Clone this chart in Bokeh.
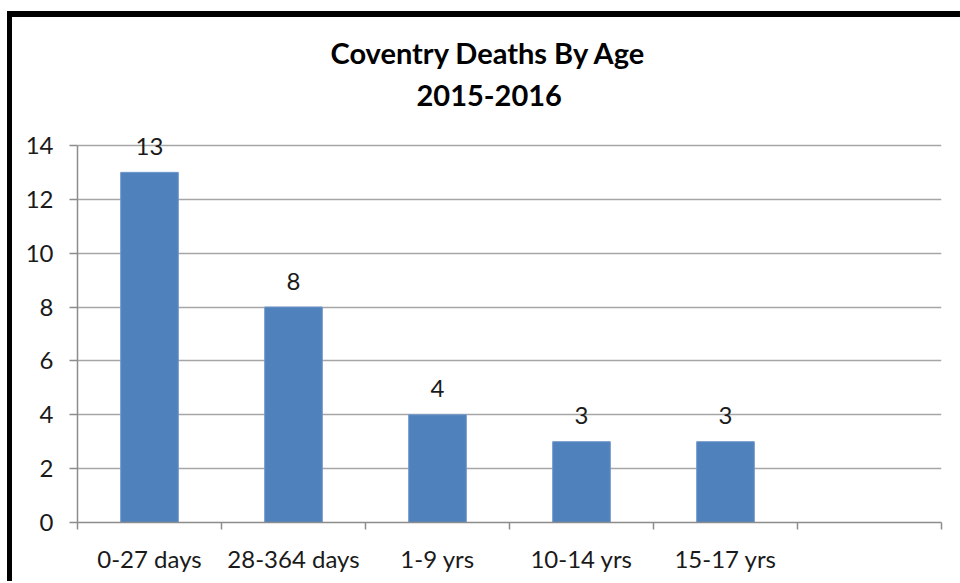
from bokeh.plotting import figure
from bokeh.models import FixedTicker, Range1d, ColumnDataSource, LabelSet, Title
from bokeh.core.properties import value
from bokeh.embed import file_html
from bokeh.resources import INLINE

categories = ["0-27 days", "28-364 days", "1-9 yrs", "10-14 yrs", "15-17 yrs", ""]
deaths = [13, 8, 4, 3, 3]
y_ticks = [0, 2, 4, 6, 8, 10, 12, 14]
title_lines = ["Coventry Deaths By Age", "2015-2016"]

n = len(categories)
centers = [i + 0.5 for i in range(n)]
src = ColumnDataSource(dict(x=centers[:len(deaths)], top=deaths,
                            label=[str(v) for v in deaths]))

FONT = "Lato"
GRAY = "#8c8c8c"
TXT = "#1a1a1a"

p = figure(width=953, height=570, output_backend="svg", toolbar_location=None,
           x_range=Range1d(0, n), y_range=Range1d(0, max(y_ticks) + 1),
           min_border_left=65, min_border_right=24, min_border_top=101,
           min_border_bottom=65)
p.styles = {"margin-left": "7px", "margin-top": "11px",
            "border-left": "5px solid black", "border-top": "6px solid black"}
p.outline_line_color = None
p.background_fill_color = "white"
p.border_fill_color = "white"

p.xgrid.grid_line_color = None
p.ygrid.ticker = FixedTicker(ticks=y_ticks)
p.ygrid.grid_line_color = "#a6a6a6"
p.ygrid.grid_line_width = 1.5

p.vbar(x="x", top="top", width=0.4, source=src,
       fill_color="#4F81BD", line_color="#6f97c9", line_width=1)

labels = LabelSet(x="x", y="top", text="label", source=src, y_offset=26,
                  text_align="center", text_baseline="middle",
                  text_font_size="24px", text_font=value(FONT), text_color=TXT)
p.add_layout(labels)

xa = p.xaxis[0]
xa.ticker = FixedTicker(ticks=centers, minor_ticks=list(range(n + 1)))
xa.major_label_overrides = {c: cat for c, cat in zip(centers, categories)}
xa.major_tick_line_color = None
xa.major_tick_out = 0
xa.major_tick_in = 0
xa.minor_tick_out = 7
xa.minor_tick_in = 0
xa.minor_tick_line_color = GRAY
xa.minor_tick_line_width = 1.5
xa.axis_line_color = GRAY
xa.axis_line_width = 1.5
xa.major_label_standoff = 14
xa.major_label_text_font = FONT
xa.major_label_text_font_size = "24px"
xa.major_label_text_color = TXT

ya = p.yaxis[0]
ya.bounds = (0, max(y_ticks))
ya.ticker = FixedTicker(ticks=y_ticks, minor_ticks=[])
ya.major_tick_out = 8
ya.major_tick_in = 0
ya.major_tick_line_color = GRAY
ya.major_tick_line_width = 1.5
ya.minor_tick_line_color = None
ya.axis_line_color = GRAY
ya.axis_line_width = 1.5
ya.major_label_standoff = 16
ya.major_label_text_font = FONT
ya.major_label_text_font_size = "24px"
ya.major_label_text_color = TXT

# titles: first added sits closest to the frame
for line, standoff, offset in zip(reversed(title_lines), [26, 0], [339, 253]):
    p.add_layout(Title(text=line, align="left", offset=offset, standoff=standoff,
                       text_font=FONT, text_font_style="bold",
                       text_font_size="29px", text_color="#000000"), "above")

open("out.html", "w").write(file_html(p, INLINE))
